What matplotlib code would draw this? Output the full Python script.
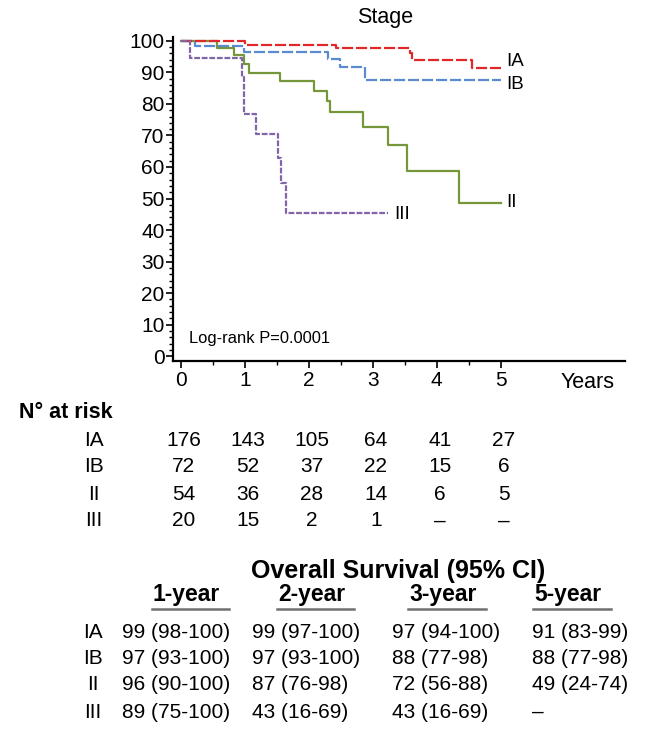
import matplotlib
matplotlib.use('Agg')
import numpy as np
from matplotlib import pyplot as plt
from matplotlib import transforms

plt.rcParams['font.family'] = ['Liberation Sans', 'DejaVu Sans']

W, H = 652, 752

# Kaplan-Meier step curves (years, % surviving)
ia_t = [0.0, 0.92, 1.00, 2.42, 3.58, 3.62, 4.55, 5.00]
ia_s = [100, 99.8, 98.8, 97.6, 96.0, 93.9, 91.3, 91.3]
ib_t = [0.0, 0.22, 0.99, 2.30, 2.49, 2.88, 5.00]
ib_s = [100, 98.5, 96.5, 94.1, 91.6, 87.7, 87.7]
ii_t = [0.0, 0.57, 0.84, 0.99, 1.06, 1.55, 2.08, 2.28, 2.34, 2.84, 3.24, 3.53, 4.34, 5.00]
ii_s = [100, 97.6, 95.5, 92.5, 89.9, 87.2, 84.0, 81.0, 77.3, 72.7, 66.9, 58.7, 48.7, 48.7]
iii_t = [0.0, 0.14, 0.95, 0.99, 1.17, 1.52, 1.57, 1.64, 3.24]
iii_s = [100, 94.4, 88.6, 76.9, 70.3, 62.7, 54.8, 45.5, 45.5]

stages = ['IA', 'IB', 'II', 'III']
risk_years = [0, 1, 2, 3, 4, 5]
at_risk = {
    'IA': ['176', '143', '105', '64', '41', '27'],
    'IB': ['72', '52', '37', '22', '15', '6'],
    'II': ['54', '36', '28', '14', '6', '5'],
    'III': ['20', '15', '2', '1', '\u2013', '\u2013'],
}
os_headers = ['1-year', '2-year', '3-year', '5-year']
os_values = {
    'IA': ['99 (98-100)', '99 (97-100)', '97 (94-100)', '91 (83-99)'],
    'IB': ['97 (93-100)', '97 (93-100)', '88 (77-98)', '88 (77-98)'],
    'II': ['96 (90-100)', '87 (76-98)', '72 (56-88)', '49 (24-74)'],
    'III': ['89 (75-100)', '43 (16-69)', '43 (16-69)', '\u2013'],
}


def fx(x):
    return x / W


def fy(y):
    return 1 - y / H


fig = plt.figure(figsize=(W / 100, H / 100), dpi=100)
ax = fig.add_axes([fx(173), fy(361), fx(625) - fx(173), fy(37) - fy(361)])

ax.step(ii_t, ii_s, where='post', color='#76963a', lw=1.6)
ax.step(ib_t, ib_s, where='post', color='#5b8ad0', lw=1.6, dashes=(5, 1.3))
ax.step(ia_t, ia_s, where='post', color='#e0282a', lw=1.6, dashes=(5, 1.3))
ax.step(iii_t, iii_s, where='post', color='#8065a8', lw=1.6, dashes=(2.6, 0.8))

lab = dict(fontsize=13.5, va='center', ha='left')
ax.text(5.08, 93.3, 'IA', **lab)
ax.text(5.08, 86.3, 'IB', **lab)
ax.text(5.08, 48.7, 'II', **lab)
ax.text(3.33, 45.0, 'III', **lab)
ax.text(0.13, 5.5, 'Log-rank P=0.0001', fontsize=11.9, va='center', ha='left')

ax.set_xlim(-0.12, 6.94)
ax.set_ylim(-1.5, 101.2)
ax.set_xticks(range(0, 6))
ax.set_xticks(np.arange(0.5, 5, 1.0), minor=True)
ax.set_yticks(range(0, 101, 10))
ax.set_yticks(range(0, 101, 2), minor=True)
ax.tick_params(axis='both', which='major', labelsize=15, length=5, width=1.2, direction='out')
ax.tick_params(axis='both', which='minor', length=3, width=1)
ax.tick_params(axis='y', pad=1)
ax.tick_params(axis='x', pad=2)
for side in ['top', 'right']:
    ax.spines[side].set_visible(False)
for side in ['left', 'bottom']:
    ax.spines[side].set_linewidth(1.6)

fig.text(fx(385), fy(18), 'Stage', fontsize=15.5, ha='center', va='center')
fig.text(fx(588), fy(382), 'Years', fontsize=15.5, ha='center', va='center')

# numbers at risk, columns under the year ticks
fig.text(fx(19), fy(413), 'N\u00b0 at risk', fontsize=15.5, fontweight='bold', ha='left', va='center')
col_tr = transforms.blended_transform_factory(ax.transData, fig.transFigure)
risk_y = [440, 467, 494, 521]
for st, y in zip(stages, risk_y):
    fig.text(fx(94), fy(y), st, fontsize=15, ha='center', va='center')
    for yr, v in zip(risk_years, at_risk[st]):
        ax.text(yr + 0.05, fy(y), v, fontsize=15, ha='center', va='center',
                transform=col_tr, clip_on=False)

# overall survival table
fig.text(fx(398), fy(571), 'Overall Survival (95% CI)', fontsize=18, fontweight='bold',
         ha='center', va='center')
head_x = [(152, 229), (277, 354), (408, 486), (533, 611)]
for (x0, x1), h in zip(head_x, os_headers):
    fig.text(fx(x0 + 1), fy(595), h, fontsize=16.5, fontweight='bold', ha='left', va='center')
    fig.add_artist(plt.Line2D([fx(x0), fx(x1)], [fy(609), fy(609)], color='#707070', lw=1.8))
col_x = [122, 252, 392, 532]
os_y = [632, 659, 685, 712]
for st, y in zip(stages, os_y):
    fig.text(fx(93), fy(y), st, fontsize=15, ha='center', va='center')
    for x, v in zip(col_x, os_values[st]):
        fig.text(fx(x), fy(y), v, fontsize=15, ha='left', va='center')

fig.savefig('out.png', dpi=100)
